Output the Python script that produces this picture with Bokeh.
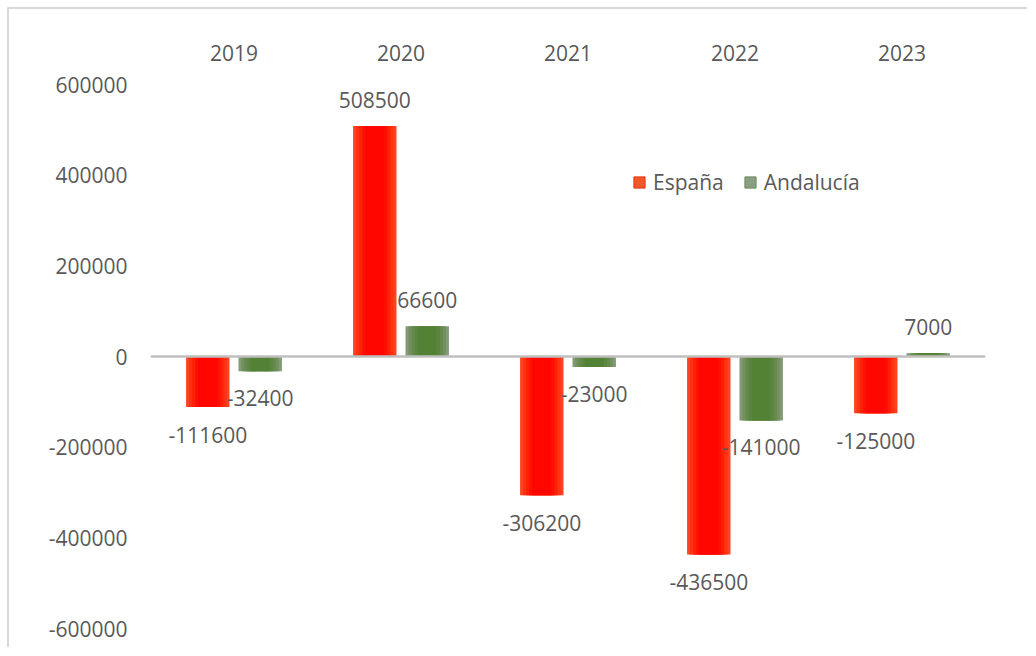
from bokeh.plotting import figure
from bokeh.models import (ColumnDataSource, FactorRange, Span, Legend, LegendItem,
                          FixedTicker, NumeralTickFormatter, LinearAxis, CategoricalAxis)
from bokeh.transform import dodge
from bokeh.core.properties import value
from bokeh.embed import file_html
from bokeh.resources import INLINE

years = ["2019", "2020", "2021", "2022", "2023"]
espana = [-111600, 508500, -306200, -436500, -125000]
andalucia = [-32400, 66600, -23000, -141000, 7000]
y_ticks = [-600000, -400000, -200000, 0, 200000, 400000, 600000]

FONT = "Open Sans"
TXT = "#595959"

src = ColumnDataSource(dict(
    year=years, esp=espana, and_=andalucia,
    esp_lbl=[str(v) for v in espana], and_lbl=[str(v) for v in andalucia],
    esp_off=[-26 if v >= 0 else 28 for v in espana],
    and_off=[-26 if v >= 0 else 27 for v in andalucia],
))

p = figure(width=1020, height=640, x_range=FactorRange(*years),
           y_range=(-600000, 600000), output_backend="svg",
           toolbar_location=None, x_axis_location=None, y_axis_location=None,
           min_border_left=141, min_border_right=44, min_border_top=75,
           min_border_bottom=21)
p.styles = {"margin-left": "7px", "margin-top": "7px",
            "border-top": "2px solid #d9d9d9", "border-left": "2px solid #d9d9d9"}
p.outline_line_color = None
p.xgrid.visible = False
p.ygrid.visible = False

yax = LinearAxis(ticker=FixedTicker(ticks=y_ticks),
                 formatter=NumeralTickFormatter(format="0"))
yax.axis_line_color = None
yax.major_tick_line_color = None
yax.minor_tick_line_color = None
yax.major_label_text_font = FONT
yax.major_label_text_font_size = "21px"
yax.major_label_text_color = TXT
yax.major_label_standoff = 17
p.add_layout(yax, "left")

xax = CategoricalAxis()
xax.axis_line_color = None
xax.major_tick_line_color = None
xax.minor_tick_line_color = None
xax.major_label_text_font = FONT
xax.major_label_text_font_size = "21px"
xax.major_label_text_color = TXT
xax.major_label_standoff = 18
p.add_layout(xax, "above")

W = 0.26
D = 0.157
red_layers = ["#ff4222", "#ff3212", "#ff2008", "#ff1002", "#ff0600"]
green_layers = ["#829b76", "#73905e", "#66894c", "#5b8540", "#548235"]
fracs = [1.0, 0.86, 0.72, 0.58, 0.44]

for c, f in zip(red_layers, fracs):
    p.vbar(x=dodge("year", -D, range=p.x_range), top="esp", bottom=0,
           width=W * f, source=src, fill_color=c, line_color=None)
for c, f in zip(green_layers, fracs):
    p.vbar(x=dodge("year", D, range=p.x_range), top="and_", bottom=0,
           width=W * f, source=src, fill_color=c, line_color=None)

p.add_layout(Span(location=0, dimension="width", line_color="#bfbfbf", line_width=2.5))

p.text(x=dodge("year", -D, range=p.x_range), y="esp", text="esp_lbl", y_offset="esp_off",
       source=src, text_align="center", text_baseline="middle",
       text_font=value(FONT), text_font_size="21px", text_color=TXT)
p.text(x=dodge("year", D, range=p.x_range), y="and_", text="and_lbl", y_offset="and_off",
       source=src, text_align="center", text_baseline="middle",
       text_font=value(FONT), text_font_size="21px", text_color=TXT)

# legend keys: NaN coordinates so nothing is drawn in the plot area
key_src = ColumnDataSource(dict(l=[float("nan")], r=[float("nan")],
                                t=[float("nan")], b=[float("nan")]))
leg_esp = p.quad(left="l", right="r", top="t", bottom="b", source=key_src,
                 fill_color="#f05a28", line_color="#e8341c")
leg_and = p.quad(left="l", right="r", top="t", bottom="b", source=key_src,
                 fill_color="#8a9e80", line_color="#6f8a5e")

legend = Legend(items=[LegendItem(label="España", renderers=[leg_esp]),
                       LegendItem(label="Andalucía", renderers=[leg_and])],
                orientation="horizontal", location=(482, 432),
                label_text_font=FONT, label_text_font_size="21px", label_text_color=TXT,
                glyph_width=14, glyph_height=14, spacing=19, padding=0, margin=0,
                label_standoff=7, border_line_color=None, background_fill_alpha=0)
p.add_layout(legend, "center")

open("out.html", "w").write(file_html(p, INLINE))
